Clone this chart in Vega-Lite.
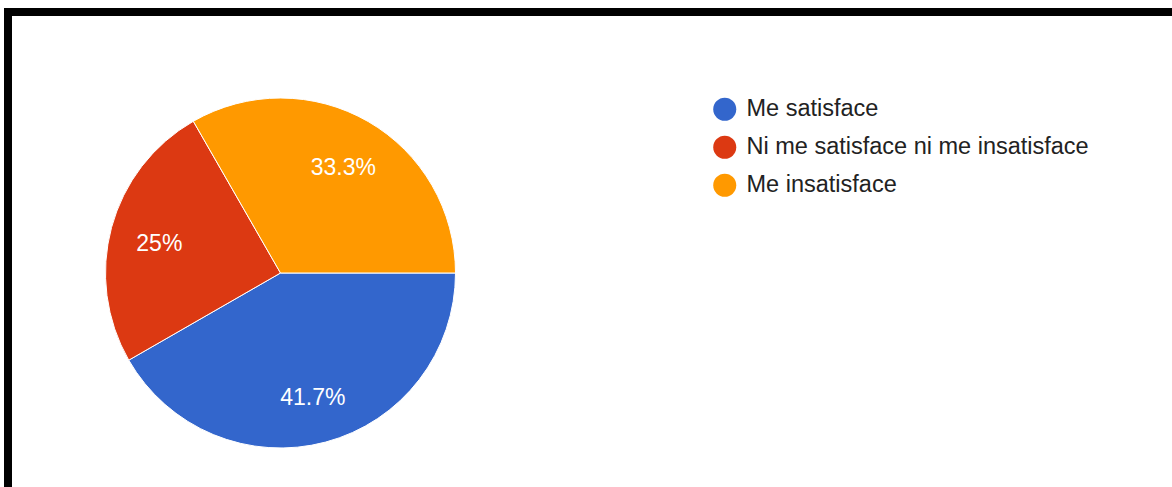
{
  "$schema": "https://vega.github.io/schema/vega-lite/v6.json",
  "width": 1164,
  "height": 475,
  "autosize": {"type": "none"},
  "padding": {"left": 8, "top": 12, "right": 0, "bottom": 0},
  "background": "white",
  "view": {
    "stroke": "black",
    "strokeWidth": 8,
    "strokeDash": [1164, 1639, 475, 0],
    "strokeCap": "square"
  },
  "data": {
    "values": [
      {"respuesta": "Me satisface", "porcentaje": 41.7, "etiqueta": "41.7%", "orden": 1},
      {"respuesta": "Ni me satisface ni me insatisface", "porcentaje": 25, "etiqueta": "25%", "orden": 2},
      {"respuesta": "Me insatisface", "porcentaje": 33.3, "etiqueta": "33.3%", "orden": 3}
    ]
  },
  "encoding": {
    "theta": {"field": "porcentaje", "type": "quantitative", "stack": true, "scale": {"range": [1.5707963, 7.8539816]}},
    "order": {"field": "orden", "type": "quantitative", "sort": "ascending"},
    "color": {
      "field": "respuesta",
      "type": "nominal",
      "scale": {
        "domain": ["Me satisface", "Ni me satisface ni me insatisface", "Me insatisface"],
        "range": ["#3366cc", "#dc3912", "#ff9900"]
      },
      "legend": {
        "title": null,
        "orient": "none",
        "legendX": 705,
        "legendY": 85.5,
        "padding": 0,
        "symbolType": "circle",
        "symbolSize": 529,
        "symbolStrokeWidth": 0,
        "rowPadding": 13,
        "labelOffset": 10,
        "labelFont": "Liberation Sans",
        "labelFontSize": 23.5,
        "labelColor": "#222222",
        "labelLimit": 600
      }
    }
  },
  "layer": [
    {
      "mark": {"type": "arc", "x": 272.5, "y": 261, "outerRadius": 175, "stroke": "white", "strokeWidth": 1}
    },
    {
      "mark": {"type": "text", "x": 272.5, "y": 264.5, "radius": 125.5, "fill": "white", "font": "Liberation Sans", "fontSize": 23, "baseline": "middle", "align": "center"},
      "encoding": {
        "text": {"field": "etiqueta", "type": "nominal"},
        "color": {"value": "white"}
      }
    }
  ]
}
